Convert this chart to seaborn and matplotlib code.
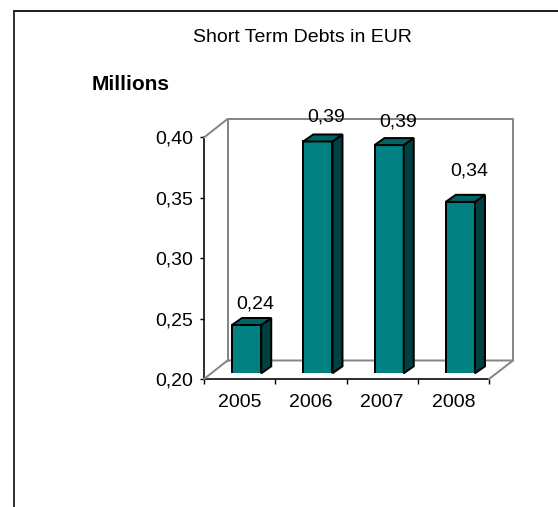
import matplotlib
matplotlib.use("Agg")
import matplotlib.pyplot as plt
import pandas as pd
import seaborn as sns
from matplotlib.lines import Line2D
from matplotlib.patches import Polygon
from matplotlib.ticker import FuncFormatter

years = ["2005", "2006", "2007", "2008"]
debts = [0.24, 0.392, 0.389, 0.342]
y_ticks = [0.20, 0.25, 0.30, 0.35, 0.40]
title_text = "Short Term Debts in EUR"
unit_text = "Millions"

W, H = 558, 507
sns.set_theme(style="white")
plt.rcParams["font.family"] = ["Liberation Sans", "DejaVu Sans"]

FRONT, TOP, SIDE = "#008080", "#006464", "#004040"
GREY = "#868686"
PX = 72 / 100  # one pixel in points at dpi 100
TEXT_SIZE = 14


def axes_rect(left, top, right, bottom):
    return [left / W, 1 - bottom / H, (right - left) / W, (bottom - top) / H]


fig = plt.figure(figsize=(W / 100, H / 100), dpi=100, facecolor="white")

# Outer frame: left and top edges run off the canvas
fig.add_artist(Line2D([14 / W, 14 / W], [0, 1 - 11 / H], color="#333333", lw=2 * PX))
fig.add_artist(Line2D([14 / W, 1], [1 - 11 / H, 1 - 11 / H], color="#222222", lw=2 * PX))

# Front plane of the chart carries the axes and ticks
ax = fig.add_axes(axes_rect(204, 137.5, 489, 379))
ax.patch.set_alpha(0)
ax.set_xlim(-0.5, 3.5)
ax.set_ylim(0.20, 0.40)
ax.spines[["top", "right"]].set_visible(False)
for side in ("left", "bottom"):
    ax.spines[side].set_color("black")
    ax.spines[side].set_linewidth(1.6 * PX)
ax.set_yticks(y_ticks)
ax.yaxis.set_major_formatter(FuncFormatter(lambda v, _: f"{v:.2f}".replace(".", ",")))
ax.set_xticks([i - 0.5 for i in range(len(years) + 1)])
ax.set_xticklabels([])
ax.set_xticks(range(len(years)), labels=years, minor=True)
ax.tick_params(axis="y", which="major", left=True, length=4 * PX, width=1.4 * PX,
               color="black", labelsize=TEXT_SIZE, pad=5, labelcolor="black")
ax.tick_params(axis="x", which="major", bottom=True, length=5 * PX, width=1.4 * PX, color="black")
ax.tick_params(axis="x", which="minor", bottom=False, length=0, labelsize=TEXT_SIZE, pad=10.7,
               labelcolor="black")

# Back wall and floor edges, receding from the front plane
fig.add_artist(Line2D([204 / W, 227.5 / W, 513 / W, 513 / W, 489 / W],
                      [1 - 137.5 / H, 1 - 119 / H, 1 - 119 / H, 1 - 360.5 / H, 1 - 379 / H],
                      color=GREY, lw=2 * PX, zorder=0.5))
fig.add_artist(Line2D([227.5 / W, 227.5 / W], [1 - 119 / H, 1 - 360.5 / H],
                      color=GREY, lw=2 * PX, zorder=0.5))
fig.add_artist(Line2D([204 / W, 227.5 / W, 513 / W], [1 - 379 / H, 1 - 360.5 / H, 1 - 360.5 / H],
                      color=GREY, lw=2 * PX, zorder=0.5))

# Bars sit a little into the depth, so their axes is shifted from the front plane
bar_ax = fig.add_axes(axes_rect(211, 131.8, 496, 373.3), zorder=3)
bar_ax.patch.set_alpha(0)
frame = pd.DataFrame({"year": years, "debt": debts})
sns.barplot(data=frame, x="year", y="debt", color=FRONT, saturation=1, width=0.41,
            edgecolor="black", linewidth=2 * PX, ax=bar_ax, zorder=3)
bar_ax.set_xlim(-0.5, 3.5)
bar_ax.set_ylim(0.20, 0.40)
bar_ax.axis("off")

# Side and top faces of each bar, extruded by a fixed pixel depth
fig.canvas.draw()
bar_dx, bar_dy = 10, 7
label_gaps = [10, 13, 12, 19]
for bar, value, gap in zip(bar_ax.patches, debts, label_gaps):
    x0, x1 = bar.get_x(), bar.get_x() + bar.get_width()
    (px0, py0), (px1, py1) = bar_ax.transData.transform([(x0, 0.20), (x1, value)])
    side_face = [(px1, py0), (px1 + bar_dx, py0 + bar_dy), (px1 + bar_dx, py1 + bar_dy), (px1, py1)]
    top_face = [(px0, py1), (px0 + bar_dx, py1 + bar_dy), (px1 + bar_dx, py1 + bar_dy), (px1, py1)]
    for pts, colour in ((side_face, SIDE), (top_face, TOP)):
        bar_ax.add_patch(Polygon(pts, closed=True, transform=None, facecolor=colour,
                                 edgecolor="black", linewidth=2 * PX, clip_on=False, zorder=4))
    bar_ax.annotate(f"{value:.2f}".replace(".", ","),
                    xy=((px0 + px1) / 2 + 8.5, py1 + bar_dy + gap), xycoords="figure pixels",
                    ha="center", va="baseline", fontsize=TEXT_SIZE, color="black", zorder=5)

fig.text(302 / W, 1 - 38 / H, title_text, ha="center", va="center", fontsize=14, color="black")
fig.text(131 / W, 1 - 84 / H, unit_text, ha="center", va="center", fontsize=15,
         fontweight="bold", color="black")

fig.savefig("out.png", dpi=100, facecolor="white")
